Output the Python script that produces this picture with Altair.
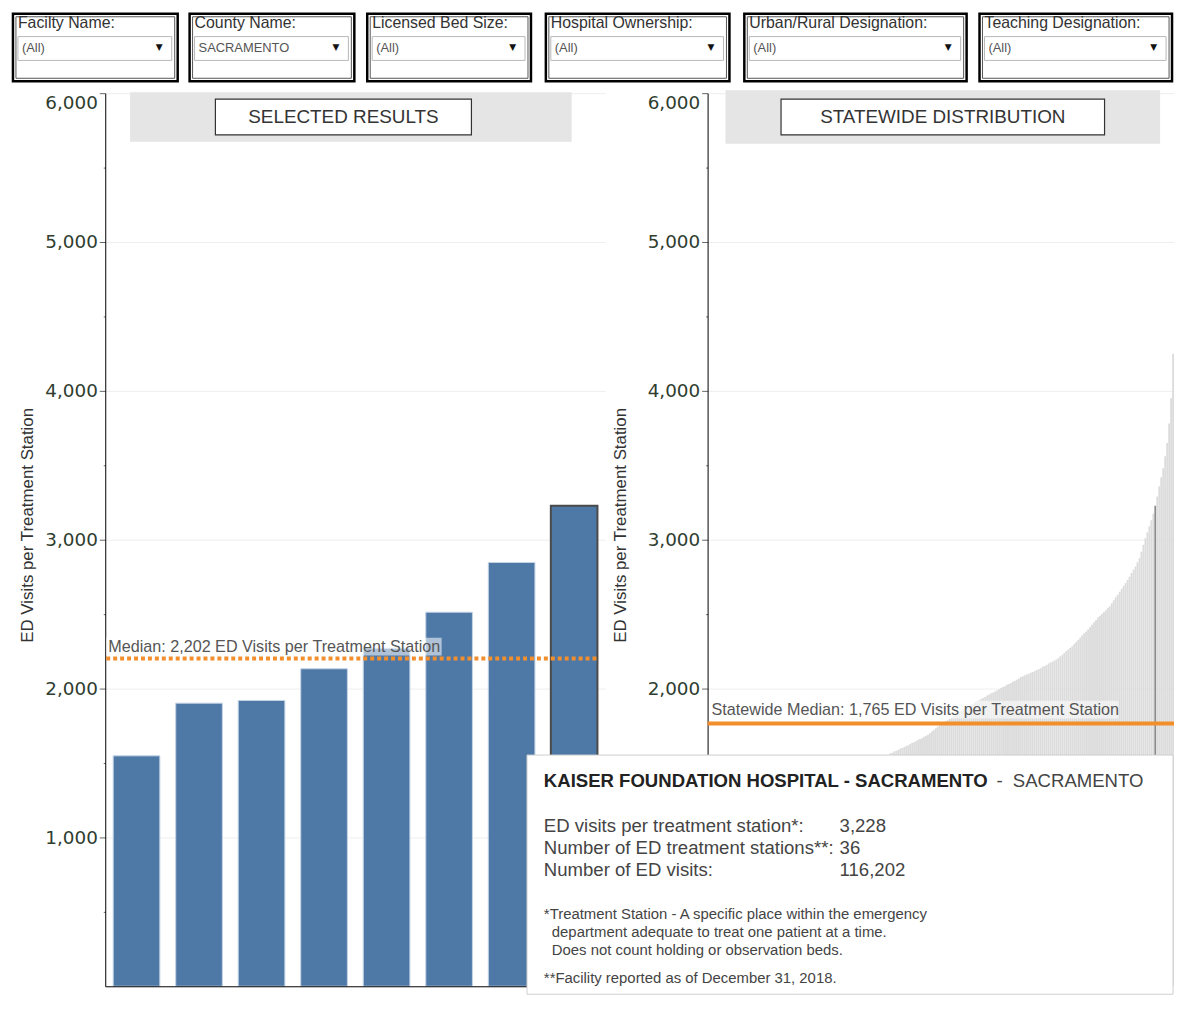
import altair as alt
import pandas as pd

# ---------------- data ----------------
FILTER_LABELS = ["Facilty Name:", "County Name:", "Licensed Bed Size:",
                 "Hospital Ownership:", "Urban/Rural Designation:", "Teaching Designation:"]
FILTER_VALUES = ["(All)", "SACRAMENTO", "(All)", "(All)", "(All)", "(All)"]

SELECTED_FACILITIES = ["Facility 1", "Facility 2", "Facility 3", "Facility 4",
                       "Facility 5", "Facility 6", "Facility 7",
                       "KAISER FOUNDATION HOSPITAL - SACRAMENTO"]
SELECTED_VISITS = [1548, 1902, 1920, 2133, 2271, 2513, 2847, 3228]
SELECTED_MEDIAN = 2202
STATEWIDE_MEDIAN = 1765

# statewide distribution, sorted ascending (left part hidden under the tooltip is estimated)
STATEWIDE_VISITS = [
    190, 320, 410, 470, 520, 565, 605, 640, 672, 700,
    726, 750, 772, 793, 812, 830, 847, 863, 878, 892,
    906, 919, 932, 944, 956, 967, 978, 989, 1000, 1010,
    1020, 1030, 1040, 1049, 1058, 1067, 1076, 1085, 1094, 1102,
    1110, 1118, 1126, 1134, 1142, 1150, 1158, 1166, 1173, 1180,
    1187, 1194, 1201, 1208, 1215, 1222, 1229, 1236, 1243, 1250,
    1257, 1264, 1271, 1278, 1285, 1292, 1300, 1308, 1316, 1324,
    1332, 1340, 1348, 1356, 1364, 1372, 1380, 1389, 1398, 1407,
    1416, 1425, 1434, 1444, 1454, 1464, 1474, 1485, 1496, 1508,
    1522, 1540,
    1565, 1569, 1578, 1582, 1588, 1597, 1601, 1607, 1615, 1619,
    1627, 1635, 1640, 1647, 1656, 1661, 1667, 1676, 1683, 1690,
    1700, 1712, 1721, 1733, 1745,
    1754, 1762, 1773, 1780, 1788, 1798, 1806, 1814, 1823, 1833, 1840, 1851, 1862,
    1869, 1875, 1885, 1892, 1898, 1908, 1915, 1921, 1931, 1937, 1944, 1953, 1960, 1968,
    1973, 1981, 1987, 1995, 2004,
    2010, 2016, 2025, 2031, 2037, 2047, 2053, 2059, 2068,
    2078, 2082, 2090, 2095, 2100, 2107, 2112, 2116, 2124, 2130,
    2136, 2146, 2152, 2159, 2168,
    2175, 2181, 2189, 2196,
    2205, 2217, 2228, 2239, 2252, 2262, 2274,
    2285, 2300, 2313, 2327, 2342,
    2356, 2371, 2384, 2397, 2412,
    2428, 2445, 2460, 2478,
    2490, 2501, 2514,
    2527, 2541, 2553,
    2573, 2594, 2613, 2631, 2650,
    2670, 2691, 2710, 2730,
    2752, 2776, 2798, 2820,
    2848, 2876,
    2920, 2966, 3010,
    3050, 3091, 3130,
    3175, 3228,
    3290, 3360, 3420, 3480, 3560, 3650, 3780, 3950, 4250,
]

HIGHLIGHT_FACILITY = "KAISER FOUNDATION HOSPITAL - SACRAMENTO"
HIGHLIGHT_COUNTY = "SACRAMENTO"
HIGHLIGHT_VISITS = 3228
HIGHLIGHT_STATIONS = 36
HIGHLIGHT_ED_VISITS = 116202

TOOLTIP_LABELS = ["ED visits per treatment station*:",
                  "Number of ED treatment stations**:",
                  "Number of ED visits:"]
FOOTNOTE_A = "*Treatment Station - A specific place within the emergency"
FOOTNOTE_B = ["department adequate to treat one patient at a time.",
              "Does not count holding or observation beds."]
FOOTNOTE_C = "**Facility reported as of December 31, 2018."

Y_AXIS_VALUES = [500, 1000, 1500, 2000, 2500, 3000, 3500, 4000, 4500, 5000, 5500, 6000]

# ---------------- layout / style ----------------
PLOT_H = 900
LEFT_W = 504
RIGHT_W = 470
GAP = 103
FILTER_H = 68
# filter boxes, pixel edges relative to the left plot origin
FILTER_LEFT = [-93, 85, 264, 444, 644, 881]
FILTER_RIGHT = [73, 251, 429, 629, 868, 1075]

ORANGE = "#F28E2B"
BLUE = "#4e79a7"
FONT = "Liberation Sans"
TICK_COLOR = "#2f3d2f"

y_scale = alt.Scale(domain=[0, 6000], nice=False)


def y_axis(title_x, min_label):
    label_expr = ("datum.value % 1000 === 0 && datum.value >= " + str(min_label)
                  + " ? format(datum.value, ',') : ''")
    return alt.Axis(
        values=Y_AXIS_VALUES,
        labelExpr=label_expr,
        tickSize={"condition": {"test": "datum.value % 1000 !== 0", "value": 2}, "value": 6},
        gridOpacity={"condition": {"test": "datum.value % 1000 !== 0", "value": 0}, "value": 1},
        gridColor="#eeeeee",
        domainColor="black",
        tickColor="#666666",
        labelFont="DejaVu Sans",
        labelFontSize=18.5,
        labelColor=TICK_COLOR,
        labelPadding=2,
        labelFlush=True,
        title="ED Visits per Treatment Station",
        titleFont=FONT,
        titleFontSize=17,
        titleFontWeight="normal",
        titleColor="#333333",
        titleX=title_x,
        titleY=435,
        zindex=0,
    )


LEFT_AXIS = y_axis(-69, 1000)
RIGHT_AXIS = y_axis(-79, 2000)   # the 1,000 label sits under the tooltip panel


def one(**kw):
    return alt.Chart(pd.DataFrame({k: [v] for k, v in kw.items()}))


# ---------------- filter row ----------------
filt_df = pd.DataFrame({"label": FILTER_LABELS, "val": FILTER_VALUES,
                        "x0": FILTER_LEFT, "x1": FILTER_RIGHT})
fbase = alt.Chart(filt_df).transform_calculate(
    ix0="datum.x0 + 3", ix1="datum.x1 - 3",
    dx0="datum.x0 + 5", dx1="datum.x1 - 6",
    tx="datum.x0 + 5", vx="datum.x0 + 9", ax="datum.x1 - 22",
)
f_outer = fbase.mark_rect(fill="white", stroke="black", strokeWidth=2.5).encode(
    x=alt.X("x0:Q", scale=None, axis=None), x2="x1:Q",
    y=alt.value(0), y2=alt.value(FILTER_H))
f_inner = fbase.mark_rect(fillOpacity=0, stroke="#555555", strokeWidth=1).encode(
    x=alt.X("ix0:Q", scale=None, axis=None), x2="ix1:Q",
    y=alt.value(3), y2=alt.value(FILTER_H - 3))
f_drop = fbase.mark_rect(fill="white", stroke="#b8b8b8", strokeWidth=1).encode(
    x=alt.X("dx0:Q", scale=None, axis=None), x2="dx1:Q",
    y=alt.value(23), y2=alt.value(47))
f_label = fbase.mark_text(align="left", baseline="middle", font=FONT, fontSize=16,
                          color="#333333").encode(
    x=alt.X("tx:Q", scale=None, axis=None), y=alt.value(9), text="label:N")
f_val = fbase.mark_text(align="left", baseline="middle", font=FONT, fontSize=13,
                        color="#555555").encode(
    x=alt.X("vx:Q", scale=None, axis=None), y=alt.value(35), text="val:N")
f_arrow = fbase.mark_text(align="left", baseline="middle", font="DejaVu Sans", fontSize=9,
                          color="#111111", text="\u25BC").encode(
    x=alt.X("ax:Q", scale=None, axis=None), y=alt.value(34))
filters = alt.layer(f_outer, f_inner, f_drop, f_label, f_val, f_arrow).properties(
    width=LEFT_W + GAP + RIGHT_W, height=FILTER_H)

# ---------------- left chart: selected results ----------------
sel_df = pd.DataFrame({"facility": SELECTED_FACILITIES, "visits": SELECTED_VISITS})

l_head_bg = one(t=0).mark_rect(color="#e5e5e5").encode(
    x=alt.value(25), x2=alt.value(470), y=alt.value(-1), y2=alt.value(49))
l_head_box = one(t=0).mark_rect(fill="white", stroke="#333333", strokeWidth=1.2).encode(
    x=alt.value(111), x2=alt.value(369), y=alt.value(6), y2=alt.value(42))
l_head_txt = one(t="SELECTED RESULTS").mark_text(
    font=FONT, fontSize=19, color="#333333", baseline="middle").encode(
    text="t:N", x=alt.value(240), y=alt.value(24))

l_bars = alt.Chart(sel_df).mark_bar().encode(
    x=alt.X("facility:N", sort=None,
            scale=alt.Scale(paddingInner=0.254, paddingOuter=0.127),
            axis=alt.Axis(labels=False, ticks=False, title=None, domainColor="black",
                          grid=False, zindex=1)),
    y=alt.Y("visits:Q", scale=y_scale, axis=LEFT_AXIS),
    color=alt.value(BLUE),
    stroke=alt.when(alt.datum.facility == HIGHLIGHT_FACILITY)
    .then(alt.value("#4a4a4a")).otherwise(alt.value("#c4d4e6")),
    strokeWidth=alt.when(alt.datum.facility == HIGHLIGHT_FACILITY)
    .then(alt.value(2)).otherwise(alt.value(1)),
)

l_med = one(m=SELECTED_MEDIAN,
            label=f"Median: {SELECTED_MEDIAN:,} ED Visits per Treatment Station")
l_med_box = l_med.mark_rect(color="white", opacity=0.55, yOffset=-21, y2Offset=-3).encode(
    y=alt.Y("m:Q", scale=y_scale, axis=LEFT_AXIS), y2="m:Q",
    x=alt.value(1), x2=alt.value(339))
l_med_rule = l_med.mark_rule(color=ORANGE, strokeWidth=4, strokeDash=[4, 3]).encode(
    y=alt.Y("m:Q", scale=y_scale, axis=LEFT_AXIS), x=alt.value(1), x2=alt.value(497))
l_med_txt = l_med.mark_text(align="left", baseline="middle", dy=-12, font=FONT,
                            fontSize=16.3, color="#555555").encode(
    y=alt.Y("m:Q", scale=y_scale, axis=LEFT_AXIS), x=alt.value(3), text="label:N")

left = alt.layer(l_head_bg, l_head_box, l_head_txt, l_bars, l_med_box, l_med_rule,
                 l_med_txt).properties(width=LEFT_W, height=PLOT_H)

# ---------------- right chart: statewide distribution ----------------
dist_df = pd.DataFrame({"rank": list(range(len(STATEWIDE_VISITS))),
                        "visits": STATEWIDE_VISITS})

r_head_bg = one(t=0).mark_rect(color="#e5e5e5").encode(
    x=alt.value(18), x2=alt.value(456), y=alt.value(-3), y2=alt.value(51))
r_head_box = one(t=0).mark_rect(fill="white", stroke="#333333", strokeWidth=1.2).encode(
    x=alt.value(74), x2=alt.value(400), y=alt.value(6), y2=alt.value(42))
r_head_txt = one(t="STATEWIDE DISTRIBUTION").mark_text(
    font=FONT, fontSize=19, color="#333333", baseline="middle").encode(
    text="t:N", x=alt.value(237), y=alt.value(24))

r_bars = alt.Chart(dist_df).mark_bar().encode(
    x=alt.X("rank:O", sort=None, scale=alt.Scale(paddingInner=0.06, paddingOuter=0),
            axis=None),
    y=alt.Y("visits:Q", scale=y_scale, axis=RIGHT_AXIS),
    color=alt.when(alt.datum.visits == HIGHLIGHT_VISITS)
    .then(alt.value("#8c8c8c")).otherwise(alt.value("#dcdcdc")),
)

r_med = one(m=STATEWIDE_MEDIAN,
            label=f"Statewide Median: {STATEWIDE_MEDIAN:,} ED Visits per Treatment Station")
r_med_box = r_med.mark_rect(color="white", opacity=0.55, yOffset=-23, y2Offset=-5).encode(
    y=alt.Y("m:Q", scale=y_scale, axis=RIGHT_AXIS), y2="m:Q",
    x=alt.value(2), x2=alt.value(414))
r_med_rule = r_med.mark_rule(color=ORANGE, strokeWidth=4).encode(
    y=alt.Y("m:Q", scale=y_scale, axis=RIGHT_AXIS), x=alt.value(0), x2=alt.value(RIGHT_W))
r_med_txt = r_med.mark_text(align="left", baseline="middle", dy=-14, font=FONT,
                            fontSize=16.3, color="#555555").encode(
    y=alt.Y("m:Q", scale=y_scale, axis=RIGHT_AXIS), x=alt.value(4), text="label:N")

# tooltip panel
TT_X = -165
TT_FS = 18.7
tt_rect = one(t=0).mark_rect(fill="white", stroke="#cfcfcf", strokeWidth=1).encode(
    x=alt.value(-182), x2=alt.value(RIGHT_W - 1), y=alt.value(667), y2=alt.value(908))
tt_title = one(t=HIGHLIGHT_FACILITY).mark_text(
    align="left", baseline="middle", font=FONT, fontSize=TT_FS, fontWeight="bold",
    color="#222222").encode(text="t:N", x=alt.value(TT_X), y=alt.value(693))
tt_county = one(t="-\u00a0\u00a0" + HIGHLIGHT_COUNTY).mark_text(
    align="left", baseline="middle", font=FONT, fontSize=TT_FS, color="#444444").encode(
    text="t:N", x=alt.value(291), y=alt.value(693))
tt_labels = one(t="\n".join(TOOLTIP_LABELS)).mark_text(
    align="left", baseline="alphabetic", font=FONT, fontSize=TT_FS, color="#444444",
    lineBreak="\n", lineHeight=22).encode(text="t:N", x=alt.value(TT_X), y=alt.value(745))
tt_vals = one(t="\n".join([f"{HIGHLIGHT_VISITS:,}", f"{HIGHLIGHT_STATIONS:,}",
                           f"{HIGHLIGHT_ED_VISITS:,}"])).mark_text(
    align="left", baseline="alphabetic", font=FONT, fontSize=TT_FS, color="#444444",
    lineBreak="\n", lineHeight=22).encode(text="t:N", x=alt.value(133), y=alt.value(745))
tt_fn_a = one(t=FOOTNOTE_A).mark_text(
    align="left", baseline="alphabetic", font=FONT, fontSize=15, color="#444444").encode(
    text="t:N", x=alt.value(TT_X), y=alt.value(832))
tt_fn_b = one(t="\n".join(FOOTNOTE_B)).mark_text(
    align="left", baseline="alphabetic", font=FONT, fontSize=15, color="#444444",
    lineBreak="\n", lineHeight=18).encode(text="t:N", x=alt.value(TT_X + 8), y=alt.value(850))
tt_fn_c = one(t=FOOTNOTE_C).mark_text(
    align="left", baseline="alphabetic", font=FONT, fontSize=15, color="#444444").encode(
    text="t:N", x=alt.value(TT_X), y=alt.value(897))

right = alt.layer(r_head_bg, r_head_box, r_head_txt, r_bars, r_med_box, r_med_rule,
                  r_med_txt, tt_rect, tt_title, tt_county, tt_labels, tt_vals,
                  tt_fn_a, tt_fn_b, tt_fn_c).properties(width=RIGHT_W, height=PLOT_H)

main = alt.hconcat(left, right, spacing=GAP, bounds="flush")

chart = alt.vconcat(filters, main, spacing=12, bounds="flush").properties(
    padding={"left": 3, "top": 0, "right": 0, "bottom": 0}
).configure(font=FONT).configure_view(strokeWidth=0)

chart.save("out.html", embed_options={"renderer": "svg", "actions": False})
